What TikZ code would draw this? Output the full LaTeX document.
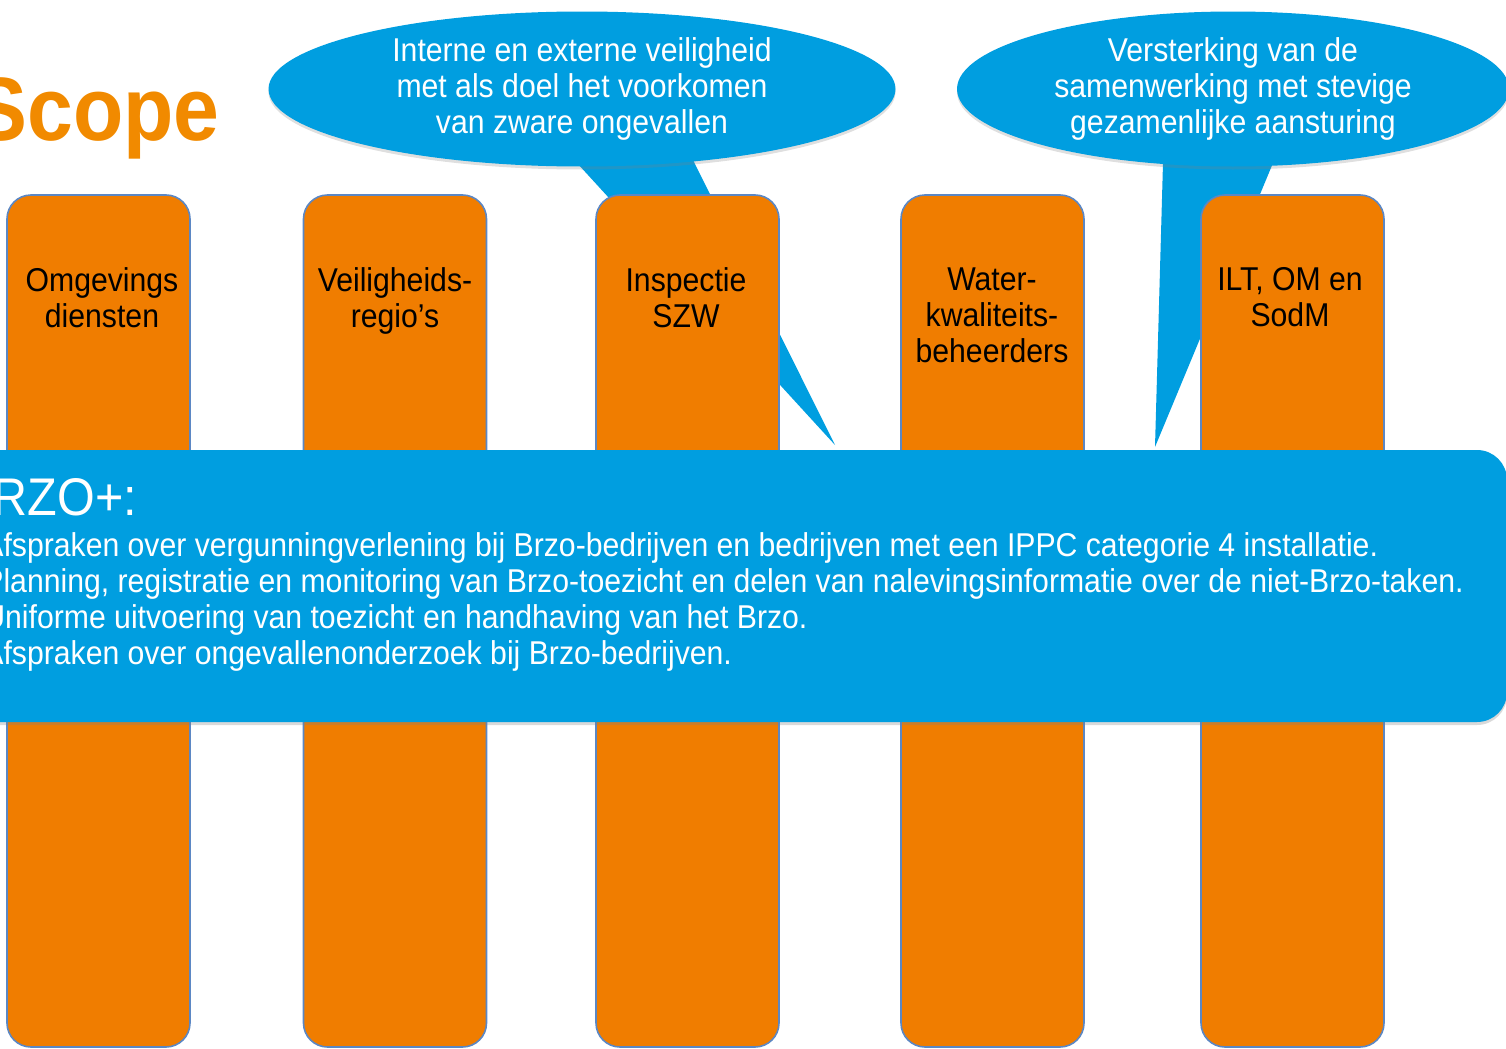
\documentclass[tikz,border=0pt]{standalone}
\usepackage{fontspec}
\setmainfont{Liberation Sans}[FakeStretch=0.915]
\usetikzlibrary{positioning,shapes.geometric,shadows}
\definecolor{brzoblue}{HTML}{009EE0}
\definecolor{brzoorange}{HTML}{F07D00}
\definecolor{titleorange}{HTML}{F18A00}
\definecolor{pillarline}{HTML}{5B87C4}

\begin{document}
\begin{tikzpicture}[x=0.5pt, y=-0.5pt,
      pillar/.style = {draw=pillarline, line width=0.8pt, fill=brzoorange, rounded corners=12pt,
        minimum width=91.5pt, minimum height=426pt, inner sep=0pt},
      pillartext/.style = {align=center, anchor=north, inner sep=0pt, font=\fontsize{16.5}{18}\selectfont},
      bubble/.style = {shape=ellipse, fill=brzoblue, inner sep=0pt, text=white, align=center,
        font=\fontsize{16.5}{18}\selectfont, minimum height=77.5pt,
        drop shadow={shadow xshift=0pt, shadow yshift=-1.5pt, opacity=0.25}},
      band/.style = {fill=brzoblue, rounded corners=15pt, minimum width=783.5pt, minimum height=136pt,
        inner sep=0pt, drop shadow={shadow xshift=0pt, shadow yshift=-1.5pt, opacity=0.3}}]
  \useasboundingbox (0,0) rectangle (1506,1049);
  \clip (0,0) rectangle (1506,1049);

  % title
  \node[anchor=base west, inner sep=0pt, text=titleorange, font=\fontsize{45}{50}\bfseries\selectfont] (title) at (-28,140) {Scope};

  % speech bubbles with their tails
  \coordinate (tip1) at (835,445);
  \coordinate (tip2) at (1155,447);
  \fill[brzoblue] (577,163) -- (693,160) -- (tip1) -- cycle;
  \fill[brzoblue] (1163,163) -- (1273,163) -- (tip2) -- cycle;
  \node[bubble, minimum width=313.5pt] (safety) at (582,89)
    {Interne en externe veiligheid\\met als doel het voorkomen\\van zware ongevallen};
  \node[bubble, minimum width=276pt] (cooperation) at (1233,89)
    {Versterking van de\\samenwerking met stevige\\gezamenlijke aansturing};

  % pillars
  \node[pillar] (odienst) at (98.5,621) {};
  \node[pillar] (vregio) at (395,621) {};
  \node[pillar] (szw) at (687.5,621) {};
  \node[pillar] (water) at (992.5,621) {};
  \node[pillar] (ilt) at (1292.5,621) {};
  \node[pillartext] (odiensttext) at (102,267) {Omgevings\\diensten};
  \node[pillartext] (vregiotext) at (395,267) {Veiligheids-\\regio’s};
  \node[pillartext] (szwtext) at (686,267) {Inspectie\\SZW};
  \node[pillartext] (watertext) at (992,267) {Water-\\kwaliteits-\\beheerders};
  \node[pillartext] (ilttext) at (1290,267) {ILT, OM en\\SodM};

  % BRZO+ band
  \node[band] (brzo) at (723.5,586) {};
  \node[anchor=base west, inner sep=0pt, text=white, font=\fontsize{26.5}{30}\selectfont] (brzohead) at (-40,515) {BRZO+:};
  \node[anchor=north west, inner sep=0pt, align=left, text=white, font=\fontsize{16.5}{18}\selectfont] (brzolist) at (-17,532)
    {Afspraken over vergunningverlening bij Brzo-bedrijven en bedrijven met een IPPC categorie 4 installatie.\\
     Planning, registratie en monitoring van Brzo-toezicht en delen van nalevingsinformatie over de niet-Brzo-taken.\\
     Uniforme uitvoering van toezicht en handhaving van het Brzo.\\
     Afspraken over ongevallenonderzoek bij Brzo-bedrijven.};
\end{tikzpicture}
\end{document}
